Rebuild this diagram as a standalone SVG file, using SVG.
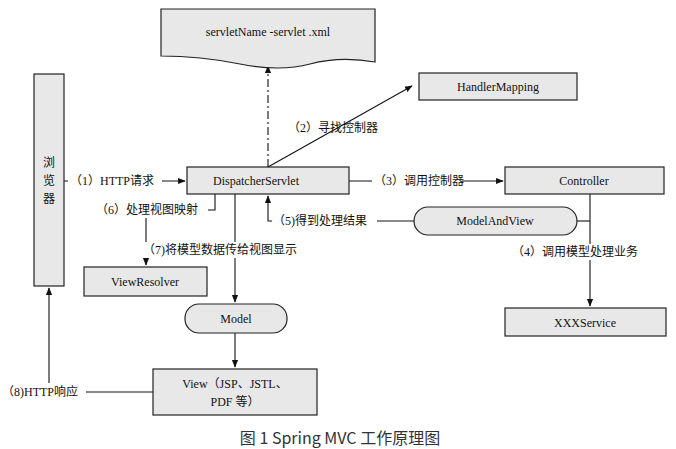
<svg xmlns="http://www.w3.org/2000/svg" width="676" height="449" viewBox="0 0 676 449">
<style>
.b{fill:#e8e8e8;stroke:#222;stroke-width:1.2}
.t{font-family:"Liberation Serif","Noto Sans CJK SC",serif;font-size:12px;fill:#111}
.c{stroke:#111;stroke-width:1.1;fill:none}
.lb{fill:#fff}
</style>
<defs><marker id="a" viewBox="0 0 10 10" refX="9" refY="5" markerWidth="7" markerHeight="7" orient="auto"><path d="M0,1L10,5L0,9z" fill="#111"/></marker></defs>
<rect width="676" height="449" fill="#fff"/>
<g id="connectors">
<path class="c" d="M268,167V66" stroke-dasharray="8,3,2,3" marker-end="url(#a)"/>
<path class="c" d="M268,167L412,86" marker-end="url(#a)"/>
<path class="c" d="M64,181H185" marker-end="url(#a)"/>
<path class="c" d="M349,181H503" marker-end="url(#a)"/>
<path class="c" d="M590,194V306" marker-end="url(#a)"/>
<path class="c" d="M577,221H590"/>
<path class="c" d="M377,221H414"/>
<path class="c" d="M272,221H268V196" marker-end="url(#a)"/>
<path class="c" d="M215,194V210H208"/>
<path class="c" d="M146,218V265" marker-end="url(#a)"/>
<path class="c" d="M235,194V302" marker-end="url(#a)"/>
<path class="c" d="M235,333V367" marker-end="url(#a)"/>
<path class="c" d="M153,392H86"/>
<path class="c" d="M49,383V288" marker-end="url(#a)"/>
<rect class="lb" x="68" y="173" width="94" height="16"/>
<rect class="lb" x="372" y="173" width="90" height="16"/>
<rect class="lb" x="512" y="244" width="130" height="16"/>
<rect class="lb" x="143" y="242" width="160" height="16"/>
<text class="t" x="70" y="185">（1）HTTP请求</text>
<text class="t" x="288" y="132">（2）寻找控制器</text>
<text class="t" x="374" y="185">（3）调用控制器</text>
<text class="t" x="512" y="256">（4）调用模型处理业务</text>
<text class="t" x="273" y="225">（5)得到处理结果</text>
<text class="t" x="96" y="214">（6）处理视图映射</text>
<text class="t" x="143" y="254">（7)将模型数据传给视图显示</text>
<text class="t" x="2" y="396">（8)HTTP响应</text>
</g>
<g id="doc"><path class="b" d="M161,9H375V62Q340,56 310,64T240,64T161,56Z"/><text class="t" x="268" y="36" text-anchor="middle">servletName -servlet .xml</text></g>
<g id="browser"><rect class="b" x="34" y="74" width="30" height="212"/><text class="t" x="49" y="167" text-anchor="middle">浏</text><text class="t" x="49" y="185" text-anchor="middle">览</text><text class="t" x="49" y="203" text-anchor="middle">器</text></g>
<g id="dispatcher"><rect class="b" x="187" y="167" width="162" height="27"/><text class="t" x="256" y="185" text-anchor="middle">DispatcherServlet</text></g>
<g id="handlermapping"><rect class="b" x="419" y="73" width="158" height="27"/><text class="t" x="498" y="91" text-anchor="middle">HandlerMapping</text></g>
<g id="controller"><rect class="b" x="505" y="167" width="159" height="27"/><text class="t" x="584" y="185" text-anchor="middle">Controller</text></g>
<g id="modelandview"><rect class="b" x="414" y="207" width="163" height="28" rx="14"/><text class="t" x="495" y="225" text-anchor="middle">ModelAndView</text></g>
<g id="viewresolver"><rect class="b" x="84" y="267" width="123" height="29"/><text class="t" x="145" y="286" text-anchor="middle">ViewResolver</text></g>
<g id="model"><rect class="b" x="185" y="304" width="102" height="29" rx="14"/><text class="t" x="236" y="323" text-anchor="middle">Model</text></g>
<g id="xxxservice"><rect class="b" x="505" y="308" width="161" height="28"/><text class="t" x="585" y="327" text-anchor="middle">XXXService</text></g>
<g id="view"><rect class="b" x="153" y="369" width="164" height="46"/><text class="t" x="235" y="388" text-anchor="middle">View（JSP、JSTL、</text><text class="t" x="235" y="406" text-anchor="middle">PDF 等）</text></g>
<text x="340" y="444" text-anchor="middle" style="font-family:'Noto Sans CJK SC','Noto Sans',sans-serif;font-size:16px;fill:#333">图 1  Spring MVC 工作原理图</text>
</svg>
